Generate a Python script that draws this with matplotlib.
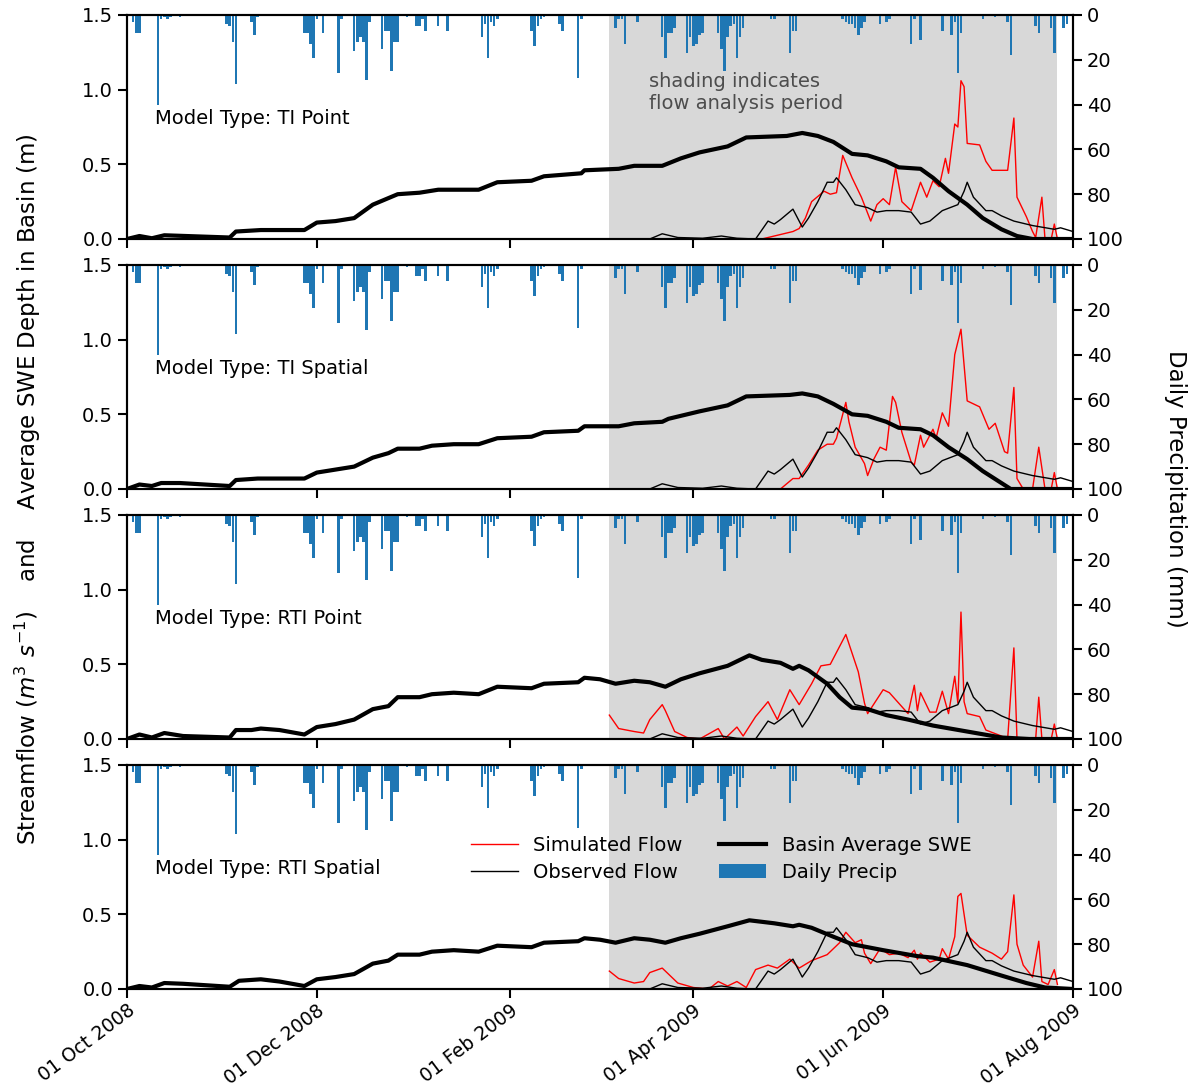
import numpy as np
import matplotlib
matplotlib.use('Agg')
import matplotlib.pyplot as plt
import matplotlib.dates as mdates

plt.rcParams['font.family'] = ['DejaVu Sans']
plt.rcParams['font.size'] = 14

start = np.datetime64('2008-10-01')
end = np.datetime64('2009-08-01')
shade_days = [155, 299]

# daily precipitation (mm), day offset from 01 Oct 2008
precip_days = [2, 3, 4, 10, 11, 12, 13, 14, 17, 32, 33, 34, 35, 40, 41, 42,
               57, 58, 59, 60, 61, 63, 68, 69, 73, 74, 75, 76, 77, 78,
               82, 83, 84, 85, 86, 87, 90, 93, 94, 95, 96, 100, 103,
               114, 115, 116, 117, 118, 119, 130, 131, 132, 133, 134, 139, 140,
               145, 146, 157, 158, 159, 160, 164, 172, 173, 174, 175, 176,
               180, 181, 182, 183, 184, 185, 190, 191, 192, 193, 194, 195, 196, 197, 198,
               207, 208, 213, 214, 215, 230, 231, 232, 233, 234, 235, 236, 237,
               242, 244, 245, 252, 253, 255, 262, 265, 266, 267, 268, 275, 279,
               283, 284, 292, 293, 297, 298, 301, 302]
precip_mm = [3, 8, 8, 40, 2, 1, 2, 1, 1, 4, 5, 12, 31, 3, 9, 1,
             8, 8, 13, 19, 2, 8, 26, 2, 16, 12, 10, 12, 29, 3,
             15, 7, 7, 25, 12, 12, 1, 5, 5, 2, 7, 5, 7,
             10, 4, 19, 3, 5, 2, 7, 14, 5, 2, 1, 4, 7,
             28, 2, 6, 2, 2, 13, 3, 10, 19, 8, 8, 6,
             17, 10, 14, 13, 9, 8, 8, 15, 25, 10, 5, 4, 19, 10, 6,
             2, 2, 17, 7, 7, 2, 3, 4, 4, 6, 9, 6, 3,
             4, 3, 2, 13, 2, 11, 7, 9, 3, 26, 8, 2, 1,
             3, 18, 5, 8, 6, 17, 6, 4]

# observed streamflow (same in every panel)
obs_days = [155, 168, 172, 177, 185, 191, 196, 202, 206, 208, 210, 214, 217, 219, 222,
            225, 227, 228, 231, 234, 238, 241, 244, 248, 252, 255, 258, 262, 267, 269,
            270, 272, 276, 278, 281, 285, 291, 298, 300, 304]
obs_flow = [0.0, 0.0, 0.035, 0.01, 0.005, 0.02, 0.005, 0.0, 0.12, 0.10, 0.13, 0.20, 0.08, 0.14, 0.25,
            0.38, 0.38, 0.41, 0.33, 0.23, 0.21, 0.18, 0.19, 0.19, 0.18, 0.10, 0.12, 0.19, 0.23, 0.32,
            0.38, 0.28, 0.19, 0.19, 0.155, 0.12, 0.09, 0.065, 0.075, 0.05]

# basin average SWE per model
swe_days_1 = [0, 4, 8, 12, 33, 35, 43, 57, 61, 67, 73, 79, 87, 94, 100, 113, 119, 130, 134, 146,
              147, 158, 163, 172, 178, 184, 193, 199, 212, 217, 222, 227, 233, 238, 244, 248,
              255, 259, 264, 270, 275, 281, 286, 291, 304]
swe_1 = [0.0, 0.02, 0.005, 0.025, 0.01, 0.05, 0.06, 0.06, 0.11, 0.12, 0.14, 0.23, 0.30, 0.31, 0.33,
         0.33, 0.38, 0.39, 0.42, 0.44, 0.46, 0.47, 0.49, 0.49, 0.54, 0.58, 0.62, 0.68, 0.69, 0.71,
         0.69, 0.65, 0.57, 0.56, 0.52, 0.48, 0.47, 0.41, 0.32, 0.23, 0.14, 0.065, 0.02, 0.0, 0.0]

swe_days_2 = [0, 4, 8, 11, 17, 33, 35, 42, 57, 61, 67, 73, 79, 84, 87, 94, 98, 105, 113, 119,
              130, 134, 145, 147, 158, 163, 172, 174, 184, 193, 199, 213, 217, 222, 227, 233,
              238, 244, 248, 255, 259, 264, 270, 275, 281, 284, 304]
swe_2 = [0.0, 0.03, 0.02, 0.04, 0.04, 0.02, 0.06, 0.07, 0.07, 0.11, 0.13, 0.15, 0.21, 0.24, 0.27,
         0.27, 0.29, 0.30, 0.30, 0.34, 0.35, 0.38, 0.39, 0.42, 0.42, 0.44, 0.45, 0.47, 0.52, 0.56,
         0.62, 0.63, 0.64, 0.62, 0.57, 0.50, 0.49, 0.45, 0.41, 0.40, 0.36, 0.28, 0.20, 0.12, 0.04,
         0.0, 0.0]

swe_days_3 = [0, 4, 8, 12, 18, 33, 35, 40, 43, 49, 57, 61, 67, 73, 79, 84, 87, 94, 98, 105,
              113, 119, 130, 134, 145, 147, 152, 157, 163, 168, 173, 178, 184, 193, 200, 204,
              210, 214, 216, 219, 225, 229, 233, 238, 244, 251, 259, 270, 281, 290, 304]
swe_3 = [0.0, 0.03, 0.01, 0.04, 0.02, 0.01, 0.06, 0.06, 0.07, 0.06, 0.03, 0.08, 0.10, 0.13, 0.20,
         0.22, 0.28, 0.28, 0.30, 0.31, 0.30, 0.35, 0.34, 0.37, 0.38, 0.41, 0.40, 0.37, 0.39, 0.38,
         0.35, 0.40, 0.44, 0.49, 0.56, 0.53, 0.51, 0.47, 0.49, 0.46, 0.37, 0.28, 0.21, 0.20, 0.16,
         0.13, 0.09, 0.05, 0.01, 0.0, 0.0]

swe_days_4 = [0, 4, 8, 12, 18, 33, 36, 43, 49, 57, 61, 67, 73, 79, 84, 87, 94, 98, 105, 113,
              119, 130, 134, 145, 147, 152, 157, 163, 168, 173, 178, 184, 193, 200, 208, 214,
              216, 220, 227, 233, 243, 254, 259, 270, 281, 289, 295, 304]
swe_4 = [0.0, 0.02, 0.01, 0.04, 0.035, 0.015, 0.055, 0.065, 0.05, 0.02, 0.065, 0.08, 0.10, 0.17,
         0.19, 0.23, 0.23, 0.25, 0.26, 0.25, 0.29, 0.28, 0.31, 0.32, 0.34, 0.33, 0.31, 0.34, 0.33,
         0.31, 0.34, 0.37, 0.42, 0.46, 0.44, 0.42, 0.43, 0.41, 0.35, 0.30, 0.26, 0.22, 0.21, 0.16,
         0.09, 0.04, 0.01, 0.0]

# simulated streamflow per model
sim_days_1 = [204, 210, 214, 216, 218, 220, 224, 226, 228, 230, 233, 236, 239, 241, 243, 245,
              247, 249, 252, 255, 257, 259, 261, 263, 264, 266, 267, 268, 269, 270, 274, 276,
              278, 283, 285, 286, 289, 291, 292, 294, 295, 297, 298, 299]
sim_1 = [0.0, 0.03, 0.05, 0.07, 0.14, 0.25, 0.32, 0.30, 0.31, 0.56, 0.41, 0.28, 0.12, 0.23, 0.27,
         0.23, 0.48, 0.25, 0.19, 0.38, 0.28, 0.39, 0.35, 0.54, 0.44, 0.77, 0.75, 1.06, 1.02, 0.64,
         0.63, 0.52, 0.46, 0.46, 0.81, 0.28, 0.15, 0.05, 0.01, 0.28, 0.0, 0.0, 0.10, 0.0]

sim_days_2 = [210, 214, 216, 219, 222, 225, 227, 228, 231, 232, 234, 237, 238, 240, 242, 244,
              246, 247, 249, 252, 253, 255, 256, 259, 260, 262, 264, 266, 268, 270, 274, 277,
              279, 282, 283, 285, 286, 288, 291, 293, 295, 297, 298, 299]
sim_2 = [0.0, 0.07, 0.07, 0.16, 0.26, 0.30, 0.30, 0.34, 0.58, 0.45, 0.28, 0.17, 0.09, 0.20, 0.28,
         0.26, 0.62, 0.58, 0.38, 0.18, 0.16, 0.36, 0.28, 0.40, 0.34, 0.51, 0.42, 0.90, 1.07, 0.59,
         0.55, 0.40, 0.44, 0.25, 0.24, 0.68, 0.07, 0.0, 0.0, 0.28, 0.0, 0.0, 0.11, 0.0]

sim_days_3 = [155, 158, 163, 166, 168, 172, 173, 176, 180, 184, 190, 192, 196, 198, 202, 206,
              209, 213, 216, 220, 223, 226, 231, 235, 237, 238, 243, 245, 248, 251, 253, 254,
              255, 258, 260, 262, 264, 266, 267, 268, 269, 270, 274, 276, 281, 283, 285, 286,
              292, 293, 294, 297, 298, 299]
sim_3 = [0.16, 0.07, 0.05, 0.04, 0.13, 0.23, 0.19, 0.05, 0.01, 0.0, 0.07, 0.0, 0.08, 0.02, 0.15,
         0.25, 0.13, 0.33, 0.23, 0.37, 0.49, 0.50, 0.70, 0.45, 0.24, 0.17, 0.33, 0.31, 0.24, 0.17,
         0.36, 0.19, 0.31, 0.18, 0.18, 0.32, 0.17, 0.42, 0.24, 0.85, 0.25, 0.17, 0.15, 0.06, 0.02,
         0.0, 0.61, 0.0, 0.0, 0.28, 0.0, 0.0, 0.10, 0.0]

sim_days_4 = [155, 158, 163, 166, 168, 172, 173, 177, 182, 187, 190, 193, 196, 199, 202, 206,
              209, 213, 216, 220, 225, 229, 231, 234, 236, 237, 239, 242, 245, 248, 251, 253,
              254, 255, 258, 261, 262, 264, 266, 267, 268, 270, 274, 278, 281, 283, 285, 286,
              288, 291, 293, 294, 296, 298, 299]
sim_4 = [0.12, 0.07, 0.04, 0.05, 0.11, 0.14, 0.12, 0.04, 0.01, 0.0, 0.05, 0.02, 0.05, 0.01, 0.13,
         0.16, 0.14, 0.20, 0.14, 0.19, 0.23, 0.31, 0.38, 0.31, 0.33, 0.24, 0.17, 0.27, 0.23, 0.24,
         0.21, 0.26, 0.20, 0.24, 0.18, 0.20, 0.27, 0.20, 0.35, 0.62, 0.64, 0.36, 0.28, 0.24, 0.20,
         0.25, 0.63, 0.30, 0.16, 0.08, 0.32, 0.05, 0.03, 0.13, 0.03]

models = ['TI Point', 'TI Spatial', 'RTI Point', 'RTI Spatial']
swe_days = [swe_days_1, swe_days_2, swe_days_3, swe_days_4]
swes = [swe_1, swe_2, swe_3, swe_4]
sim_days = [sim_days_1, sim_days_2, sim_days_3, sim_days_4]
sims = [sim_1, sim_2, sim_3, sim_4]


def to_date(days):
    return start + np.array(days).astype('timedelta64[D]')


W, H = 1191, 1091
fig = plt.figure(figsize=(W / 100, H / 100), dpi=100)

axes = []
for i in range(4):
    top = 15 + 250 * i
    rect = [127 / W, 1 - (top + 224) / H, 946 / W, 224 / H]
    ax = fig.add_axes(rect, sharex=axes[0] if axes else None)
    axes.append(ax)

    ax.axvspan(to_date([shade_days[0]])[0], to_date([shade_days[1]])[0],
               color='#d8d8d8', lw=0, zorder=0)
    l_sim, = ax.plot(to_date(sim_days[i]), sims[i], color='red', lw=1.0, label='Simulated Flow')
    l_obs, = ax.plot(to_date(obs_days), obs_flow, color='k', lw=1.0, label='Observed Flow')
    l_swe, = ax.plot(to_date(swe_days[i]), swes[i], color='k', lw=3.0, label='Basin Average SWE')
    ax.set_ylim(0, 1.5)
    ax.set_yticks([0, 0.5, 1.0, 1.5])
    ax.text(0.03, 0.54, 'Model Type: ' + models[i], transform=ax.transAxes,
            va='center', ha='left', fontsize=14)

    ax2 = ax.twinx()
    b = ax2.bar(to_date(precip_days), precip_mm, width=0.8, color='#1f77b4',
                label='Daily Precip')
    ax2.set_ylim(100, 0)
    ax2.set_yticks([0, 20, 40, 60, 80, 100])

    for a in (ax, ax2):
        for s in a.spines.values():
            s.set_linewidth(1.5)
        a.tick_params(width=1.5, length=6.5, labelsize=14)

    if i < 3:
        ax.tick_params(labelbottom=False)
    if i == 0:
        ax.text(0.552, 0.745, 'shading indicates\nflow analysis period',
                transform=ax.transAxes, va='top', ha='left', color='0.3', fontsize=14)
    if i == 3:
        ax2.legend([l_sim, l_obs, l_swe, b],
                   ['Simulated Flow', 'Observed Flow', 'Basin Average SWE', 'Daily Precip'],
                   ncol=2, frameon=False, loc='upper left', bbox_to_anchor=(0.345, 0.76),
                   fontsize=14, handlelength=2.4, columnspacing=1.9, labelspacing=0.4)

ax = axes[-1]
ax.set_xlim(start, end)
ax.xaxis.set_major_locator(mdates.MonthLocator(bymonth=[2, 4, 6, 8, 10, 12]))
ax.xaxis.set_major_formatter(mdates.DateFormatter('%d %b %Y'))
ax.tick_params(axis='x', pad=2)
for lab in ax.get_xticklabels():
    lab.set_rotation(37)
    lab.set_ha('right')
    lab.set_rotation_mode('anchor')
    lab.set_fontsize(13.5)

fig.text(28 / W, 0.552,
         r'Streamflow ($m^3\ s^{-1}$)    and    Average SWE Depth in Basin (m)',
         rotation=90, va='center', ha='center', fontsize=16.5)
fig.text(1175 / W, 0.552, 'Daily Precipitation (mm)', rotation=270,
         va='center', ha='center', fontsize=16.5)

fig.savefig('out.png', dpi=100)
